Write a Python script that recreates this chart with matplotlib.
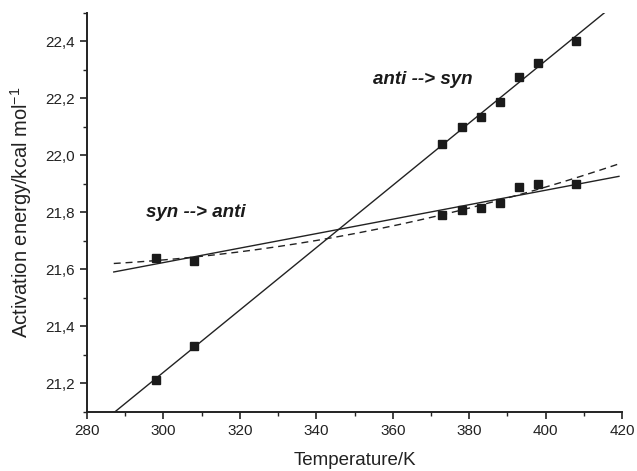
import numpy as np
import matplotlib
matplotlib.use("Agg")
import matplotlib.pyplot as plt
import matplotlib.ticker as ticker

plt.rcParams['font.family'] = ['Liberation Sans', 'DejaVu Sans']

# measured temperatures (K)
temps = [298, 308, 373, 378, 383, 388, 393, 398, 408]
# activation energies (kcal/mol)
e_anti_syn = [21.212, 21.330, 22.041, 22.101, 22.135, 22.187, 22.277, 22.325, 22.400]
e_syn_anti = [21.642, 21.631, 21.791, 21.808, 21.816, 21.833, 21.888, 21.901, 21.900]

FIT_RANGE = (287, 419.2)


def comma_fmt(v, pos):
    return ('%.1f' % v).replace('.', ',')


fig = plt.figure(figsize=(6.37, 4.71), dpi=100)
ax = fig.add_axes([0.1366, 0.1253, 0.8399, 0.8471])

t = np.array(temps)
tt = np.linspace(FIT_RANGE[0], FIT_RANGE[1], 200)

# linear fits for both directions, quadratic for syn --> anti
p_as = np.polyfit(t, e_anti_syn, 1)
p_sa = np.polyfit(t, e_syn_anti, 1)
p_sa2 = np.polyfit(t, e_syn_anti, 2)

ax.plot(tt, np.polyval(p_as, tt), color='#222222', lw=1.0)
ax.plot(tt, np.polyval(p_sa, tt), color='#222222', lw=1.0)
ax.plot(tt, np.polyval(p_sa2, tt), color='#222222', lw=1.0, ls=(0, (5, 3.5)))

ax.plot(t, e_anti_syn, ls='none', marker='s', ms=6, color='#1a1a1a')
ax.plot(t, e_syn_anti, ls='none', marker='s', ms=6, color='#1a1a1a')

ax.text(354.9, 22.266, 'anti --> syn', fontsize=13.5, fontweight='bold',
        fontstyle='italic', va='center', ha='left', color='#1a1a1a')
ax.text(295.4, 21.799, 'syn --> anti', fontsize=13.5, fontweight='bold',
        fontstyle='italic', va='center', ha='left', color='#1a1a1a')

ax.set_xlim(280, 420)
ax.set_ylim(21.1, 22.5)
ax.xaxis.set_major_locator(ticker.MultipleLocator(20))
ax.xaxis.set_minor_locator(ticker.MultipleLocator(10))
ax.yaxis.set_major_locator(ticker.FixedLocator([21.2, 21.4, 21.6, 21.8, 22.0, 22.2, 22.4]))
ax.yaxis.set_minor_locator(ticker.MultipleLocator(0.1))
ax.yaxis.set_major_formatter(ticker.FuncFormatter(comma_fmt))

for s in ['top', 'right']:
    ax.spines[s].set_visible(False)
for s in ['left', 'bottom']:
    ax.spines[s].set_linewidth(1.4)
    ax.spines[s].set_color('#222222')

ax.tick_params(which='major', direction='out', length=5, width=1.2,
               labelsize=11, colors='#222222', pad=4)
ax.tick_params(which='minor', direction='out', length=3, width=1.0, colors='#222222')

ax.set_xlabel('Temperature/K', fontsize=13.5, color='#222222', labelpad=10)
ax.set_ylabel('Activation energy/kcal mol$^{\\mathregular{-1}}$', fontsize=14.5,
              color='#222222', labelpad=8)

fig.savefig('out.png', dpi=100)
